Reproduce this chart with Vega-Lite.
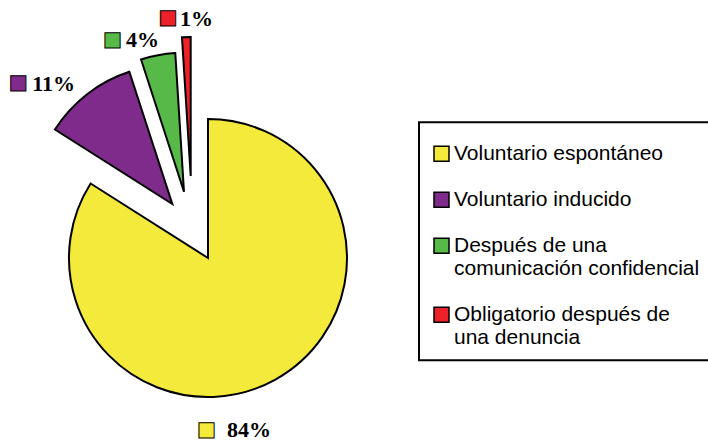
{
  "$schema": "https://vega.github.io/schema/vega-lite/v6.json",
  "width": 416,
  "height": 366,
  "autosize": {"type": "none"},
  "padding": {"left": 0, "top": 75, "right": 292, "bottom": 0},
  "background": "white",
  "config": {
    "view": {"stroke": null},
    "legend": {"strokeWidth": 2}
  },
  "data": {
    "values": [
      {"categoria": "Voluntario espontáneo", "porcentaje": 84, "orden": 1, "etiqueta": "84%"},
      {"categoria": "Voluntario inducido", "porcentaje": 11, "orden": 2, "etiqueta": "11%"},
      {"categoria": "Después de una comunicación confidencial", "porcentaje": 4, "orden": 3, "etiqueta": "4%"},
      {"categoria": "Obligatorio después de una denuncia", "porcentaje": 1, "orden": 4, "etiqueta": "1%"}
    ]
  },
  "transform": [
    {"stack": "porcentaje", "groupby": [], "sort": [{"field": "orden", "order": "ascending"}], "as": ["inicio", "fin"]}
  ],
  "layer": [
    {
      "transform": [{"filter": "datum.orden == 1"}],
      "layer": [
        {
          "mark": {"type": "arc", "radius": 139, "stroke": "black", "strokeWidth": 2, "strokeJoin": "miter"},
          "encoding": {
            "theta": {"field": "inicio", "type": "quantitative", "stack": null, "scale": {"domain": [0, 100]}},
            "theta2": {"field": "fin"},
            "color": {
              "field": "categoria", "type": "nominal",
              "scale": {"domain": ["Voluntario espontáneo", "Voluntario inducido", "Después de una comunicación confidencial", "Obligatorio después de una denuncia"], "range": ["#F4EA3B", "#7E2B8C", "#56B948", "#EC2228"]},
              "legend": {
                "title": " ", "titleFontSize": 2, "titlePadding": 7,
                "orient": "none", "legendX": 419, "legendY": 47.3,
                "symbolType": "square", "symbolSize": 225, "symbolStrokeColor": "black", "symbolStrokeWidth": 1.5,
                "labelFont": "Liberation Sans", "labelFontSize": 21, "labelColor": "black", "labelLimit": 400, "labelOffset": 2,
                "padding": 12, "strokeColor": "black", "rowPadding": 24,
                "labelExpr": "datum.label == 'Después de una comunicación confidencial' ? ['Después de una', 'comunicación confidencial'] : datum.label == 'Obligatorio después de una denuncia' ? ['Obligatorio después de', 'una denuncia'] : datum.label"
              }
            }
          }
        },
        {
          "mark": {"type": "text", "text": "■", "font": "Noto Sans CJK JP", "fontSize": 19, "stroke": "black", "strokeWidth": 1, "align": "center", "baseline": "middle", "radius": -172, "dx": -1.5, "dy": 1.5},
          "encoding": {
            "theta": {"field": "inicio", "type": "quantitative", "stack": null, "scale": {"domain": [0, 100]}},
            "color": {"field": "categoria", "type": "nominal"}
          }
        },
        {
          "mark": {"type": "text", "font": "Liberation Serif", "fontWeight": "bold", "fontSize": 22, "align": "left", "baseline": "alphabetic", "color": "black", "radius": -172, "dx": 19, "dy": 7.3},
          "encoding": {
            "theta": {"field": "inicio", "type": "quantitative", "stack": null, "scale": {"domain": [0, 100]}},
            "text": {"field": "etiqueta"}
          }
        }
      ]
    },
    {
      "transform": [{"filter": "datum.orden == 2"}],
      "layer": [
        {
          "mark": {"type": "arc", "radius": 139, "stroke": "black", "strokeWidth": 2, "strokeJoin": "miter", "xOffset": -35.7, "yOffset": -54},
          "encoding": {
            "theta": {"field": "inicio", "type": "quantitative", "stack": null, "scale": {"domain": [0, 100]}},
            "theta2": {"field": "fin"},
            "color": {"field": "categoria", "type": "nominal"}
          }
        },
        {
          "mark": {"type": "text", "text": "■", "font": "Noto Sans CJK JP", "fontSize": 19, "stroke": "black", "strokeWidth": 1, "align": "center", "baseline": "middle", "radius": 240, "dx": 12.9, "dy": -44.2},
          "encoding": {
            "theta": {"field": "inicio", "type": "quantitative", "stack": null, "scale": {"domain": [0, 100]}},
            "color": {"field": "categoria", "type": "nominal"}
          }
        },
        {
          "mark": {"type": "text", "font": "Liberation Serif", "fontWeight": "bold", "fontSize": 22, "align": "left", "baseline": "alphabetic", "color": "black", "radius": 240, "dx": 26.9, "dy": -38.7},
          "encoding": {
            "theta": {"field": "inicio", "type": "quantitative", "stack": null, "scale": {"domain": [0, 100]}},
            "text": {"field": "etiqueta"}
          }
        }
      ]
    },
    {
      "transform": [{"filter": "datum.orden == 3"}],
      "layer": [
        {
          "mark": {"type": "arc", "radius": 139, "stroke": "black", "strokeWidth": 2, "strokeJoin": "miter", "xOffset": -24, "yOffset": -66.3},
          "encoding": {
            "theta": {"field": "inicio", "type": "quantitative", "stack": null, "scale": {"domain": [0, 100]}},
            "theta2": {"field": "fin"},
            "color": {"field": "categoria", "type": "nominal"}
          }
        },
        {
          "mark": {"type": "text", "text": "■", "font": "Noto Sans CJK JP", "fontSize": 19, "stroke": "black", "strokeWidth": 1, "align": "center", "baseline": "middle", "radius": 240, "dx": -21.3, "dy": 12.7},
          "encoding": {
            "theta": {"field": "inicio", "type": "quantitative", "stack": null, "scale": {"domain": [0, 100]}},
            "color": {"field": "categoria", "type": "nominal"}
          }
        },
        {
          "mark": {"type": "text", "font": "Liberation Serif", "fontWeight": "bold", "fontSize": 22, "align": "left", "baseline": "alphabetic", "color": "black", "radius": 240, "dx": -7.8, "dy": 17.2},
          "encoding": {
            "theta": {"field": "inicio", "type": "quantitative", "stack": null, "scale": {"domain": [0, 100]}},
            "text": {"field": "etiqueta"}
          }
        }
      ]
    },
    {
      "transform": [{"filter": "datum.orden == 4"}],
      "layer": [
        {
          "mark": {"type": "arc", "radius": 139, "stroke": "black", "strokeWidth": 2, "strokeJoin": "miter", "xOffset": -17.3, "yOffset": -82},
          "encoding": {
            "theta": {"field": "inicio", "type": "quantitative", "stack": null, "scale": {"domain": [0, 100]}},
            "theta2": {"field": "fin"},
            "color": {"field": "categoria", "type": "nominal"}
          }
        },
        {
          "mark": {"type": "text", "text": "■", "font": "Noto Sans CJK JP", "fontSize": 19, "stroke": "black", "strokeWidth": 1, "align": "center", "baseline": "middle", "radius": 240, "dx": -24.9, "dy": 1.3},
          "encoding": {
            "theta": {"field": "inicio", "type": "quantitative", "stack": null, "scale": {"domain": [0, 100]}},
            "color": {"field": "categoria", "type": "nominal"}
          }
        },
        {
          "mark": {"type": "text", "font": "Liberation Serif", "fontWeight": "bold", "fontSize": 22, "align": "left", "baseline": "alphabetic", "color": "black", "radius": 240, "dx": -12.9, "dy": 7.5},
          "encoding": {
            "theta": {"field": "inicio", "type": "quantitative", "stack": null, "scale": {"domain": [0, 100]}},
            "text": {"field": "etiqueta"}
          }
        }
      ]
    }
  ]
}
